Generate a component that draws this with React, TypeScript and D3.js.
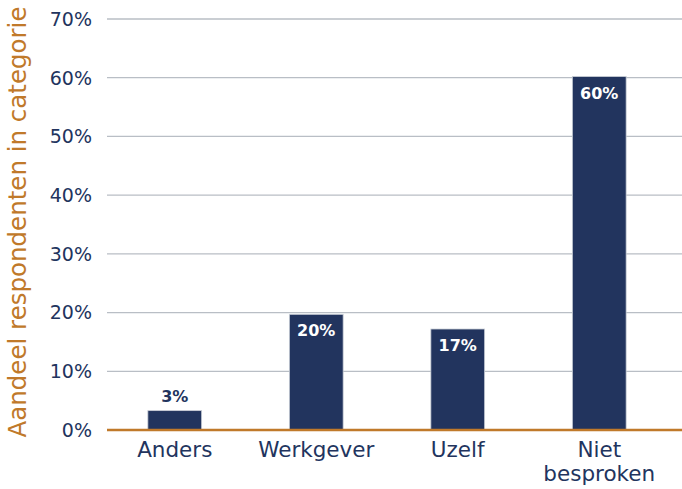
import React from "react";
import * as d3 from "d3";

const categories = ["Anders", "Werkgever", "Uzelf", "Niet besproken"];
const values = [3.3, 19.7, 17.2, 60.2];
const valueLabels = ["3%", "20%", "17%", "60%"];
const yTicks = [0, 10, 20, 30, 40, 50, 60, 70];

const W = 682, H = 489;
const navy = "#22345e";
const orange = "#c0792a";
const font = "'DejaVu Sans', sans-serif";

export default function App() {
  const x = d3.scaleBand<string>().domain(categories).range([104, 670]).paddingInner(0.62).paddingOuter(0.31);
  const y = d3.scaleLinear().domain([0, 70]).range([430, 19]);

  return (
    <svg width={W} height={H} style={{ position: "absolute", left: 0, top: 0 }} fontFamily={font}>
      {yTicks.map(t => (
        <g key={t}>
          {t > 0 && <line x1={107} x2={682} y1={y(t)} y2={y(t)} stroke="#b9bec5" strokeWidth={1.3} />}
          <text x={92} y={y(t)} dy="0.36em" textAnchor="end" fontSize={19} fill={navy}>{t}%</text>
        </g>
      ))}
      {categories.map((c, i) => {
        const bx = x(c)!;
        const cx = bx + x.bandwidth() / 2;
        const inside = values[i] > 10;
        const words = c.split(" ");
        return (
          <g key={c}>
            <rect x={bx} y={y(values[i])} width={x.bandwidth()} height={y(0) - y(values[i])}
              fill={navy} stroke="#c9ced6" strokeWidth={0.8} />
            <text x={cx} y={inside ? y(values[i]) + 22 : y(values[i]) - 9} textAnchor="middle"
              fontSize={16} fontWeight="bold" fill={inside ? "#ffffff" : navy}>{valueLabels[i]}</text>
            {words.map((w, j) => (
              <text key={w} x={cx} y={457 + j * 24} textAnchor="middle" fontSize={21.5} fill={navy}>{w}</text>
            ))}
          </g>
        );
      })}
      <line x1={107} x2={682} y1={y(0)} y2={y(0)} stroke={orange} strokeWidth={2.5} />
      <text transform={`translate(26,${222}) rotate(-90)`} textAnchor="middle" fontSize={24.5} fill={orange}>
        Aandeel respondenten in categorie
      </text>
    </svg>
  );
}
